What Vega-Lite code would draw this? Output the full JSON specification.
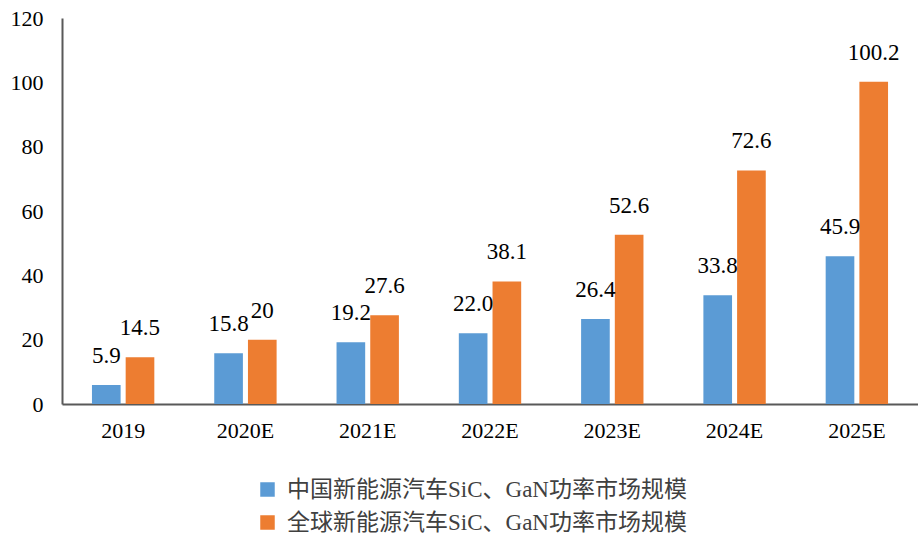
{
  "$schema": "https://vega.github.io/schema/vega-lite/v6.json",
  "autosize": {"type": "none"},
  "width": 856,
  "height": 386,
  "padding": {"left": 62, "top": 18, "right": 0, "bottom": 136},
  "background": "white",
  "config": {"view": {"stroke": null}},
  "data": {
    "values": [
      {"year": "2019", "series": "中国新能源汽车SiC、GaN功率市场规模", "value": 5.9, "label": "5.9"},
      {"year": "2019", "series": "全球新能源汽车SiC、GaN功率市场规模", "value": 14.5, "label": "14.5"},
      {"year": "2020E", "series": "中国新能源汽车SiC、GaN功率市场规模", "value": 15.8, "label": "15.8"},
      {"year": "2020E", "series": "全球新能源汽车SiC、GaN功率市场规模", "value": 20, "label": "20"},
      {"year": "2021E", "series": "中国新能源汽车SiC、GaN功率市场规模", "value": 19.2, "label": "19.2"},
      {"year": "2021E", "series": "全球新能源汽车SiC、GaN功率市场规模", "value": 27.6, "label": "27.6"},
      {"year": "2022E", "series": "中国新能源汽车SiC、GaN功率市场规模", "value": 22.0, "label": "22.0"},
      {"year": "2022E", "series": "全球新能源汽车SiC、GaN功率市场规模", "value": 38.1, "label": "38.1"},
      {"year": "2023E", "series": "中国新能源汽车SiC、GaN功率市场规模", "value": 26.4, "label": "26.4"},
      {"year": "2023E", "series": "全球新能源汽车SiC、GaN功率市场规模", "value": 52.6, "label": "52.6"},
      {"year": "2024E", "series": "中国新能源汽车SiC、GaN功率市场规模", "value": 33.8, "label": "33.8"},
      {"year": "2024E", "series": "全球新能源汽车SiC、GaN功率市场规模", "value": 72.6, "label": "72.6"},
      {"year": "2025E", "series": "中国新能源汽车SiC、GaN功率市场规模", "value": 45.9, "label": "45.9"},
      {"year": "2025E", "series": "全球新能源汽车SiC、GaN功率市场规模", "value": 100.2, "label": "100.2"}
    ]
  },
  "encoding": {
    "x": {
      "field": "year", "type": "nominal", "sort": null,
      "scale": {"paddingInner": 0.49, "paddingOuter": 0.245},
      "axis": {
        "title": null, "labelAngle": 0, "ticks": false,
        "labelFont": "Liberation Serif", "labelFontSize": 22, "labelColor": "#000000",
        "labelPadding": 16, "domainColor": "#595959", "domainWidth": 2
      }
    },
    "xOffset": {
      "field": "series", "type": "nominal", "sort": null,
      "scale": {"paddingInner": 0.15, "paddingOuter": 0}
    },
    "y": {
      "field": "value", "type": "quantitative",
      "scale": {"domain": [0, 120], "nice": false},
      "axis": {
        "title": null, "values": [0, 20, 40, 60, 80, 100, 120], "grid": false, "ticks": false,
        "labelFont": "Liberation Serif", "labelFontSize": 22, "labelColor": "#000000",
        "labelPadding": 19, "domainColor": "#595959", "domainWidth": 2
      }
    }
  },
  "layer": [
    {
      "mark": {"type": "bar"},
      "encoding": {
        "color": {
          "field": "series", "type": "nominal", "sort": null,
          "scale": {"range": ["#5B9BD5", "#ED7D31"]},
          "legend": {
            "title": null, "orient": "none", "legendX": 194, "legendY": 460,
            "direction": "vertical", "symbolType": "square", "symbolSize": 210,
            "symbolStrokeWidth": 0, "labelFont": "Liberation Serif, Noto Sans CJK SC", "labelFontSize": 23,
            "labelColor": "#404040", "labelOffset": 8, "rowPadding": 9, "labelLimit": 0, "padding": 0
          }
        }
      }
    },
    {
      "mark": {"type": "text", "baseline": "alphabetic", "dy": -22, "font": "Liberation Serif", "fontSize": 23, "color": "#000000"},
      "encoding": {"text": {"field": "label"}}
    }
  ]
}
